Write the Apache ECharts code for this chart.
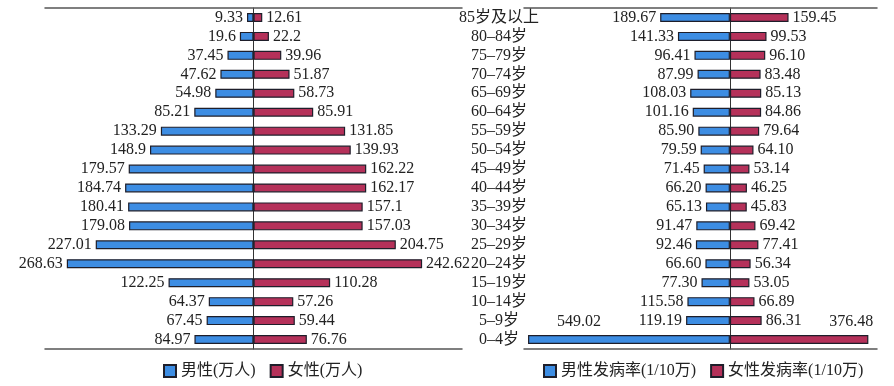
<!DOCTYPE html>
<html><head><meta charset="utf-8">
<script src="https://cdn.jsdelivr.net/npm/echarts@6/dist/echarts.min.js"></script>
<style>html,body{margin:0;padding:0;background:#fff}#c{width:894px;height:386px}</style>
</head><body><div id="c"></div>
<script>
const categories = ['85岁及以上','80–84岁','75–79岁','70–74岁','65–69岁','60–64岁','55–59岁','50–54岁','45–49岁','40–44岁','35–39岁','30–34岁','25–29岁','20–24岁','15–19岁','10–14岁','5–9岁','0–4岁'];
const malePop = [9.33,19.6,37.45,47.62,54.98,85.21,133.29,148.9,179.57,184.74,180.41,179.08,227.01,268.63,122.25,64.37,67.45,84.97];
const femalePop = [12.61,22.2,39.96,51.87,58.73,85.91,131.85,139.93,162.22,162.17,157.1,157.03,204.75,242.62,110.28,57.26,59.44,76.76];
const maleRate = [189.67,141.33,96.41,87.99,108.03,101.16,85.90,79.59,71.45,66.20,65.13,91.47,92.46,66.60,77.30,115.58,119.19,549.02];
const femaleRate = [159.45,99.53,96.10,83.48,85.13,84.86,79.64,64.10,53.14,46.25,45.83,69.42,77.41,56.34,53.05,66.89,86.31,376.48];
const seriesNames = ['男性(万人)','女性(万人)','男性发病率(1/10万)','女性发病率(1/10万)'];

const FONT = "'Liberation Serif','Noto Sans CJK SC',serif";
const BLUE = '#3d8de3', RED = '#b5315a', BORDER = '#1e1e2a';
const chart = echarts.init(document.getElementById('c'));

function xAx(grid, min, max, pos) {
  return {type:'value', gridIndex:grid, min:min, max:max, position:pos,
    axisLine:{show:true, lineStyle:{color:'#555', width:1.5}}, axisTick:{show:false},
    axisLabel:{show:false}, splitLine:{show:false}};
}
function yAx(grid, showLabel) {
  return {type:'category', gridIndex:grid, data:categories, inverse:true,
    axisLine:{show:true, onZero:true, lineStyle:{color:'#333', width:1}}, axisTick:{show:false},
    axisLabel:{show:showLabel, interval:0, margin:25, fontSize:16, fontFamily:FONT, color:'#222',
      overflow:'none', align:'center', padding:[7,0,0,0], hideOverlap:false}};
}
const lbl = {fontSize:16, fontFamily:FONT, color:'#222', distance:4};

function maleData(arr, fmt, special) {
  return arr.map((v,i)=>{
    const d = {value:-v, label:{formatter: fmt(v)}};
    if (special && i === arr.length-1) d.label = {formatter: fmt(v), position:'top', offset:[-50,0], distance:5};
    return d;
  });
}
function femaleData(arr, fmt, special) {
  return arr.map((v,i)=>{
    const d = {value:v, label:{formatter: fmt(v)}};
    if (special && i === arr.length-1) d.label = {formatter: fmt(v), position:'top', offset:[52,0], distance:5};
    return d;
  });
}
const raw = v => String(v);
const two = v => v.toFixed(2);

function barSeries(name, xi, yi, data, color, pos, stack) {
  return {type:'bar', name:name, xAxisIndex:xi, yAxisIndex:yi, stack:stack, barWidth:9,
    data:data, itemStyle:{color:color, borderColor:BORDER, borderWidth:1.2},
    label:Object.assign({show:true, position:pos}, lbl), animation:false};
}

chart.setOption({
  animation:false,
  grid:[{left:45, width:417, top:8, height:341}, {left:524, width:353, top:8, height:341}],
  xAxis:[xAx(0,-300,300,'bottom'), xAx(0,-300,300,'top'), xAx(1,-560,400,'bottom'), xAx(1,-560,400,'top')],
  yAxis:[yAx(0,false), yAx(1,true)],
  legend:[
    {data:[seriesNames[0], seriesNames[1]], left:158, top:358, icon:'rect', itemWidth:12, itemHeight:12, itemGap:14,
      textStyle:{fontSize:16, fontFamily:FONT, color:'#222'}},
    {data:[seriesNames[2], seriesNames[3]], left:538, top:358, icon:'rect', itemWidth:12, itemHeight:12, itemGap:14,
      textStyle:{fontSize:16, fontFamily:FONT, color:'#222'}}
  ],
  series:[
    barSeries(seriesNames[0],0,0,maleData(malePop,raw,false),BLUE,'left','a'),
    barSeries(seriesNames[1],0,0,femaleData(femalePop,raw,false),RED,'right','a'),
    barSeries(seriesNames[2],2,1,maleData(maleRate,two,true),BLUE,'left','b'),
    barSeries(seriesNames[3],2,1,femaleData(femaleRate,two,true),RED,'right','b')
  ]
});
</script></body></html>
